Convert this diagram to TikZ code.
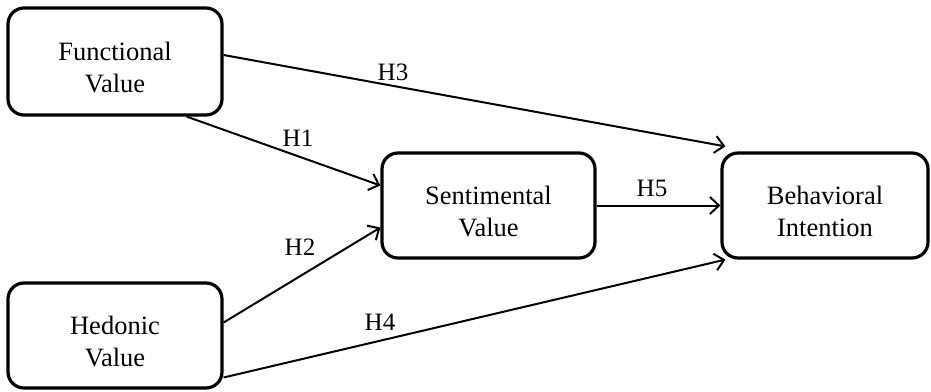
\documentclass[tikz,border=0pt]{standalone}
\usepackage{fontspec}
\setmainfont{Liberation Serif}
\usetikzlibrary{arrows.meta,calc}
\newcommand{\topstrut}{\rule{0pt}{30pt}}
\begin{document}
\begin{tikzpicture}[x=1pt,y=-1pt,
  box/.style={draw,line width=3.2pt,rounded corners=16pt,align=center,
    font=\fontsize{26.5}{31.5}\selectfont,inner sep=0pt},
  link/.style={line width=2pt,-{Straight Barb[length=9pt,width=17pt,line width=2pt]}},
  lab/.style={font=\fontsize{25}{28}\selectfont,inner sep=0pt}]
\useasboundingbox (0,0) rectangle (931,391);
\node[box,minimum width=214pt,minimum height=107pt] (fv) at (115,61.5) {\topstrut Functional\\Value};
\node[box,minimum width=214pt,minimum height=105pt] (hv) at (115,335.5) {\topstrut Hedonic\\Value};
\node[box,minimum width=213pt,minimum height=105pt] (sv) at (488.5,205.5) {\topstrut Sentimental\\Value};
\node[box,minimum width=206pt,minimum height=105pt] (bi) at (825,205.5) {\topstrut Behavioral\\Intention};
\draw[link] ($(fv.east)+(0,-6.5)$) -- ($(bi.north west)+(5,-5)$);
\draw[link] ($(fv.south east)+(-37,0)$) -- ($(sv.west)+(0,-20)$);
\draw[link] ($(hv.east)+(0,-13)$) -- ($(sv.west)+(0,22)$);
\draw[link] ($(hv.east)+(0,42)$) -- ($(bi.south west)+(5,0)$);
\draw[link] (sv.east) -- (bi.west);
\node[lab] (h3) at (393,72) {H3};
\node[lab] (h1) at (298,138) {H1};
\node[lab] (h2) at (300,247) {H2};
\node[lab] (h4) at (380,322) {H4};
\node[lab] (h5) at (652,188) {H5};
\end{tikzpicture}
\end{document}
